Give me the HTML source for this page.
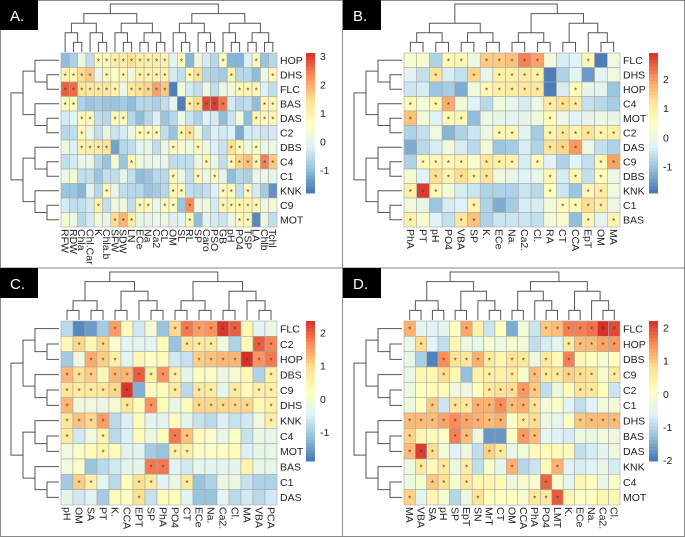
<!DOCTYPE html>
<html><head><meta charset="utf-8">
<style>
html,body{margin:0;padding:0;background:#fff;}
svg{display:block;font-family:"Liberation Sans",sans-serif;}
</style></head>
<body>
<svg id="fig" width="685" height="537" viewBox="0 0 685 537" xmlns="http://www.w3.org/2000/svg">
<rect x="0" y="0" width="685" height="537" fill="#fff"/>
<rect x="0.5" y="0.5" width="684" height="536" fill="none" stroke="#8a8a8a"/>
<line x1="342.5" y1="0" x2="342.5" y2="537" stroke="#8a8a8a"/>
<line x1="0" y1="268" x2="685" y2="268" stroke="#8a8a8a"/>
</svg>
<script>
const colsA = ["RFW","RDW","Chla","Chl.Car","K","Chla.b","SFW","SDW","LN","ECe","Na","Ca2","CL","OM","SL","RL","SP","Caro","PSO","GB","pH","PO4","TSP","LA","Chlb","Tchl"];
const rowsA = ["HOP","DHS","FLC","BAS","DAS","C2","DBS","C4","C1","KNK","C9","MOT"];
const valsA = [
"-1 -0.7 0.2 -0.5 0.8* 0.9* 1.1* 1.1* 1.4* 1.1* 1.1* 1.1* 1.0* -0.1 0.8* -1.1 0.2 -0.3 -0.6 0.8* -1.1 -1.1 -0.2 0.8* -0.9 -0.6",
"1.0* 0.9* 1.5* 1.7* 0.1 0.9* 0.6 0.9* 0.2 1.0* 1.0* 1.0* 1.0* -0.3 -0.5 0.8* 1.4* -0.6 -0.7 -0.8 1.0* -0.6 -0.6 -1.0 0.2 0.9*",
"2.7* 2.6* 1.3* 1.2* 1.3* 1.3* 1.0* 0.1 1.2* 1.4* 1.6* 2.1* 1.7* -1.7 0.3 -0.3 -0.5 0.2 -0.5 0.1 0.2 0.9* 0.9* 0.9* -0.2 -0.5",
"0.8* 0.8* -0.7 -0.9 -0.8 -0.9 -0.9 -0.8 -1.0 -0.6 -0.6 -0.7 -0.5 -0.1 -1.7 1.0* 1.5* 2.9* 3.0* 2.5* -0.3 -0.6 -0.5 -1.0 0.9* 0.9*",
"-0.3 -0.1 0.8* 0.8* -0.5 -0.6 0.8* 0.8* -0.6 -1.0 -0.6 -0.2 -0.9 -0.6 0.2 -0.4 -0.7 -0.2 -0.3 -1.0 -0.4 0.3 -1.0 0.9* 0.8* 0.9*",
"-0.6 -0.5 0.8* 0.1 -0.5 0.1 -0.4 -0.3 0.1 0.8* 0.8* 0.8* -0.5 -0.9 0.9* 1.4* 0.2 -0.6 -0.2 -0.3 -0.2 -1.2 -0.3 -0.3 -0.4 -0.3",
"0.2 -0.2 1.0* 1.1* 1.2* 1.3* -1.3 -0.6 -0.5 -0.1 0.1 -0.5 0.1 0.8* 0.3 0.2 0.8* 0.2 -0.2 -0.4 1.4* 0.8* 0.2 0.8* 0.1 0.2",
"-0.5 -0.3 0.1 0.1 -0.6 -0.9 0.3 -0.9 0.9* 0.2 0.1 0.1 0.1 -0.5 -0.5 -0.5 0.2 0.9* 0.1 -0.5 0.9* 1.6* 1.8* 1.0* 2.4* 1.7*",
"0.1 0.4 -0.5 -0.5 -0.9 -0.5 -0.5 0.0 -0.5 -1.0 -0.9 -0.6 -0.6 0.8* 0.1 -0.5 0.8* 0.1 0.8* 0.0 -1.0 -0.6 -0.7 0.1 0.1 0.0",
"-0.9 -0.9 -1.1 -0.1 -0.6 0.8* 0.1 -0.5 -0.6 -0.6 -0.9 -0.8 -0.6 0.9* 0.8* -0.5 -0.6 -0.5 -0.2 0.8* 0.8* -0.5 0.8* -0.3 -0.8 -1.5",
"-0.3 -0.5 -0.5 -0.3 1.0* -0.5 0.2 0.2 -0.5 0.8* 0.8* 0.1 0.8* 0.8* -0.9 2.3* 0.2 0.2 -0.3 0.9* 0.9* 0.9* 0.9* 0.9* 0.2 0.3",
"0.4 0.2 -0.6 -0.3 0.3 0.1 1.5* 1.9* 1.1* 0.1 0.0 0.1 0.2 -0.2 -0.1 0.9* -1.0 0.0 -0.3 -0.4 0.1 0.8* 0.8* -1.6 0.1 -0.5"];
const ticksA = [3,2,1,0,-1];

const colsB = ["PhA","PT","pH","PO4","VBA","SP","K.","ECe","Na.","Ca2.","Cl.","RA","CT","CCA","EpT","OM","MA"];
const rowsB = ["FLC","DHS","HOP","C4","MOT","C2","DAS","C9","DBS","KNK","C1","BAS"];
const valsB = [
"0.3 0.3 -0.8 0.7* 0.7* 0.0 1.5* 1.5* 1.6* 2.2* 1.9* 0.1 -0.4 -0.3 0.7* -1.8 0.1",
"-0.2 -0.6 1.2* -0.4 -0.6 1.4* -0.1 0.9* 0.9* 1.0* 0.9* -1.8 -0.8 -0.2 -1.5 -0.2 0.1",
"-0.5 -0.4 -1.0 -0.9 -1.3 0.1 0.7* 0.9* 1.0* 1.1* 1.1* -1.8 -0.4 0.6* -0.1 -0.2 -1.0",
"0.7* 0.2 0.7* 1.8* 0.1 -0.3 -0.7 0.1 -0.1 -0.4 0.0 1.0* 1.3* 1.0* -0.6 -0.7 -0.9",
"1.6* 0.2 -0.3 0.7* 0.7* -1.1 0.0 -0.1 -0.2 -0.1 0.1 0.6* 0.0 -0.3 -0.1 0.0 -0.1",
"-0.8 -0.6 0.1 -1.2 -0.8 -0.5 0.0 0.7* 0.7* -0.2 -0.9 0.8* 1.1* 0.8* 1.2* 0.8* 0.9*",
"-1.3 -0.7 -0.4 0.1 -0.4 -0.7 0.1 -1.0 -0.9 -0.4 -0.8 1.2* 1.4* 2.0* 0.0 -0.6 -0.8",
"-0.8 0.6* 0.7* 0.7* 0.8* 0.3 1.1* 0.9* 0.8* -0.4 0.6* -0.3 -0.8 -0.3 -0.6 0.7* 1.9*",
"0.2 -0.3 1.3* 0.8* 1.3* 0.8* 1.2* 0.1 -0.1 -0.3 -0.1 0.7* -0.4 0.7* -0.6 0.6* 0.0",
"0.9* 2.8* 0.7* 0.2 -0.4 -0.5 -0.8 -0.8 -0.8 -0.5 -0.7 0.5* -0.5 -1.0 0.7* 1.0* 0.1",
"0.1 -0.1 -1.0 -0.4 -0.3 0.8* -0.8 -1.3 -0.9 -0.4 -0.4 0.1 0.6* 0.6* 1.3* 1.0* 0.0",
"0.9* 0.3 -0.3 -0.6 1.1* 1.6* -0.8 -0.5 -0.5 -0.5 -0.6 0.2 0.3 -1.1 0.7* -0.2 0.8*"];
const ticksB = [2,1,0,-1];

const colsC = ["pH","OM","SA","PT","K.","CCA","EPT","SP","PhA","PO4","CT","ECe","Na.","Ca2.","Cl.","MA","VBA","PCA"];
const rowsC = ["FLC","C2","HOP","DBS","C9","DHS","KNK","C4","MOT","BAS","C1","DAS"];
const valsC = [
"-0.8 -1.7 -1.5 -1.0 1.5* 0.3 -0.6 0.0 -1.1 1.0* 1.8* 1.5* 1.6* 2.3* 2.0* 0.4 -0.4 -0.2",
"0.4 1.0* 0.4 1.0* 0.1 -0.4 -0.4 -0.4 0.3 -1.1 0.8* 0.7* 0.7* -0.1 -0.9 0.4 2.0* 1.7*",
"-1.0 -0.1 1.4* 1.1* 0.6* -0.4 0.4 0.2 0.3 -0.6 -0.7 1.1* 1.2* 1.3* 1.3* 2.4* 1.6* 1.8*",
"1.3* 0.9* 1.1* 0.4 1.3* 1.3* 2.0* 0.6* 1.6* 0.6* -0.3 0.2 0.1 -0.2 0.0 0.4 -0.9 0.6*",
"0.8* 0.7* 0.7* 0.8* 1.0* 2.3* -1.3 0.3 0.3 0.7* -0.8 0.8* 0.7* -0.3 0.7* 0.3 0.6* 0.6*",
"1.3* -0.1 -0.1 -0.2 0.0 0.8* 0.3 1.6* 0.3 -0.3 0.3 1.0* 1.0* 1.0* 1.0* 1.0* 0.4 0.6*",
"0.8* 1.2* 1.0* 1.5* -0.8 -0.5 0.3 -0.4 -0.4 0.3 -0.3 -0.7 -0.8 -0.5 -0.7 -0.6 -0.1 0.6*",
"0.7* -0.6 -0.1 0.5* -0.8 -0.5 0.3 -0.2 0.3 1.8* 1.2* 0.3 0.1 -0.3 0.2 -0.7 -0.2 -0.3",
"-0.1 0.1 0.3 0.5* 0.3 -0.4 -0.4 -1.0 -1.1 0.6* 0.6* 0.1 0.1 0.2 0.3 -0.5 -0.3 -0.3",
"-0.1 0.1 -1.1 -0.8 -0.6 -0.4 -0.3 1.8* 1.8* -0.4 -0.6 -0.3 -0.4 -0.4 -0.3 0.5 -0.2 -0.3",
"-1.0 1.1* 0.6* -0.4 -0.8 0.3 0.9* 0.7* -0.4 -0.2 0.7* -1.1 -0.9 -0.2 -0.2 -0.7 -0.9 -0.9",
"-0.3 -0.6 -0.4 -1.0 0.3 0.2 0.9* -0.7 0.3 0.3 -0.4 -1.1 -1.1 -0.4 -0.8 -0.6 -0.8 -0.6"];
const ticksC = [2,1,0,-1];

const colsD = ["MA","VBA","SA","pH","SP","EpT","SN","MrT","CT","OM","CCA","PhA","PO4","LMT","K.","ECe","Na.","Ca2.","Cl."];
const rowsD = ["FLC","HOP","DBS","C9","C2","C1","DHS","BAS","DAS","KNK","C4","MOT"];
const valsD = [
"1.2* -0.5 -0.6 -0.5 0.1 1.3* 0.4 -0.8 0.1 -1.5 -0.2 -0.8 1.0* 1.1* 1.6* 1.6* 1.7* 2.2* 2.0*",
"-0.4 0.8* -0.6 -0.9 0.3 -0.3 -0.4 -0.1 -0.3 -0.1 -0.2 -0.9 -0.7 -0.5 0.6* 1.1* 1.1* 1.3* 1.4*",
"-0.4 -1.1 -1.9 1.5* 0.7* 0.6* 1.2* 0.6* 0.3 0.7* 0.6* -0.3 0.6* 0.2 1.6* 0.3 0.1 -0.1 0.1",
"-0.4 0.3 0.3 0.8* 0.3 -1.3 0.4 0.5* 0.4 0.6* -0.1 1.1* 0.6* 0.6* 0.9* 0.8* 0.7* -0.1 0.6*",
"-0.3 0.1 0.2 0.2 -0.3 -0.3 0.1 0.6* 0.7* 0.8* 1.4* 1.0* -0.9 -0.3 0.2 0.7* 0.6* 0.1 -0.8",
"-0.3 0.1 1.0* -0.8 0.7* 0.6* 1.2* 1.2* 1.5* 1.1* 1.2* 0.7* -0.2 0.0 -0.6 -0.9 -0.6 -0.2 -0.2",
"1.1* 1.1* 1.1* 1.3* 1.5* 1.3* 1.2* 1.1* 1.2* 0.0 0.6* 0.8* -0.3 -0.5 0.1 1.0* 1.1* 1.1* 1.1*",
"0.9* 0.3 0.2 0.0 1.6* 1.1* -0.3 -1.7 -1.7 0.0 1.4* 1.1* -0.5 -0.6 -0.7 -0.3 -0.4 -0.2 -0.3",
"1.1* 2.1* 0.8* -0.2 -0.6 -0.3 -0.9 0.9* 0.6* -0.4 -0.2 0.2 0.2 0.2 0.2 -0.9 -0.7 -0.5 -0.3",
"-0.3 0.6* 0.2 0.6* -0.3 0.5* -0.9 -0.1 -0.5 1.2* -1.0 -0.8 0.2 1.2* -0.6 -0.7 -0.6 -0.4 -0.7",
"-0.3 -0.1 1.0* 0.7* -0.1 0.6* 0.3 0.3 0.2 -0.3 -0.1 -0.1 1.8* -0.1 -0.5 0.3 0.1 -0.4 0.0",
"0.9* -0.5 0.3 -0.1 -1.0 -0.3 0.7* 0.1 0.1 0.1 -0.1 0.6* 0.6* 1.9* 0.3 0.0 0.1 0.3 0.3"];
const ticksD = [2,1,0,-1,-2];

const NS = "http://www.w3.org/2000/svg";
const svg = document.getElementById('fig');
const pal = ["#4575B4","#91BFDB","#E0F3F8","#FFFFBF","#FEE090","#FC8D59","#D73027"];
function hex(h){return [1,3,5].map(i=>parseInt(h.substr(i,2),16));}
function colorAt(t){
  t=Math.max(0,Math.min(1,t));
  const p=t*(pal.length-1), i=Math.min(pal.length-2,Math.floor(p)), f=p-i;
  const a=hex(pal[i]), b=hex(pal[i+1]);
  return "rgb("+a.map((v,k)=>Math.round(v+(b[k]-v)*f)).join(",")+")";
}
function mk(tag, attrs, parent){
  const e=document.createElementNS(NS,tag);
  for(const k in attrs) e.setAttribute(k,attrs[k]);
  (parent||svg).appendChild(e); return e;
}
function dendro(g, n, horizontal, x0, y0, span, depth0, depthLen, color){
  // simple balanced tree over n leaves; returns leaf centers layout
  function build(lo, hi){
    if(hi-lo===1) return {c:lo+0.5, h:0};
    const mid=Math.floor((lo+hi)/2);
    const L=build(lo,mid), R=build(mid,hi);
    const h=Math.max(L.h,R.h)+1;
    return {c:(L.c+R.c)/2, h:h, L:L, R:R};
  }
  const root=build(0,n);
  const maxH=root.h;
  function draw(node){
    if(!node.L) return;
    draw(node.L); draw(node.R);
    const hp=depth0 - node.h/maxH*depthLen;
    const hl=depth0 - node.L.h/maxH*depthLen;
    const hr=depth0 - node.R.h/maxH*depthLen;
    const cl=span*node.L.c/n, cr=span*node.R.c/n;
    let d;
    if(!horizontal) d="M"+(x0+cl)+","+hl+"V"+hp+"H"+(x0+cr)+"V"+hr;
    else d="M"+hl+","+(y0+cl)+"H"+hp+"V"+(y0+cr)+"H"+hr;
    const p=mk('path',{d:d,fill:"none",stroke:color,"stroke-width":1},g);
    
    
  }
  draw(root);
}
function panel(label, ox, oy, hmBottom, cols, rows, vals, ticks, vmin, vmax){
  const g=mk('g',{transform:"translate("+ox+","+oy+")"});
  
  
  const x0=61, x1=277, y0=53, y1=hmBottom;
  const cw=(x1-x0)/cols.length, rh=(y1-y0)/rows.length;
  const xS=i=>x0+i*cw, yS=j=>y0+j*rh;
  const tS=v=>(v-vmin)/(vmax-vmin);
  // label box
  const lb=mk('rect',{x:0,y:0,width:38,height:30,fill:"#000"},g);
  
  
  const lt=mk('text',{x:10,y:21,fill:"#fff","font-size":15},g);
  lt.textContent=label+".";
  
  
  // dendrograms
  dendro(g, cols.length, false, x0, 0, x1-x0, 52, 48, "#555");
  dendro(g, rows.length, true, 0, y0, y1-y0, 59, 48, "#555");
  // cells
  vals.forEach((row,j)=>{
    row.split(" ").forEach((tok,i)=>{
      const star=tok.endsWith("*");
      const v=parseFloat(tok);
      const r=mk('rect',{x:xS(i),y:yS(j),width:cw,height:rh,fill:colorAt(tS(v)),stroke:"#a8a8a8","stroke-width":0.6},g);
      
      
      if(star){
        const s=mk('text',{x:xS(i)+cw/2,y:yS(j)+rh/2+4,"text-anchor":"middle","font-size":8,fill:"#444"},g);
        s.textContent="*";
        
        
      }
    });
  });
  rows.forEach((r,j)=>{
    const t=mk('text',{x:x1+3,y:yS(j)+rh/2+3.8,"font-size":10.5,fill:"#222"},g);
    t.textContent=r;
    
    
  });
  cols.forEach((c,i)=>{
    const cx=xS(i)+cw/2-3.6, cy=y1+2;
    const t=mk('text',{x:cx,y:cy,"font-size":10.5,fill:"#222",transform:"rotate(90 "+cx+" "+cy+")"},g);
    t.textContent=c;
    
    
  });
  // legend
  const ly0=53, ly1=193, lx=306, lw=9;
  const steps=40;
  for(let k=0;k<steps;k++){
    const r=mk('rect',{x:lx,y:ly0+(ly1-ly0)*k/steps,width:lw,height:(ly1-ly0)/steps+0.5,fill:colorAt(1-(k+0.5)/steps)},g);
    
    
  }
  const lyS=v=>ly1-(v-vmin)/(vmax-vmin)*(ly1-ly0);
  ticks.forEach(tv=>{
    const t=mk('text',{x:lx+lw+5,y:lyS(tv)+3.8,"font-size":10.5,fill:"#222"},g);
    t.textContent=String(tv);
    
    
  });
}
panel("A",0,0,227,colsA,rowsA,valsA,ticksA,-1.81,3.12);
panel("B",343,0,227,colsB,rowsB,valsB,ticksB,-1.9,2.9);
panel("C",0,268,237,colsC,rowsC,valsC,ticksC,-1.87,2.35);
panel("D",343,268,237,colsD,rowsD,valsD,ticksD,-2.02,2.2);
</script>
</body></html>
